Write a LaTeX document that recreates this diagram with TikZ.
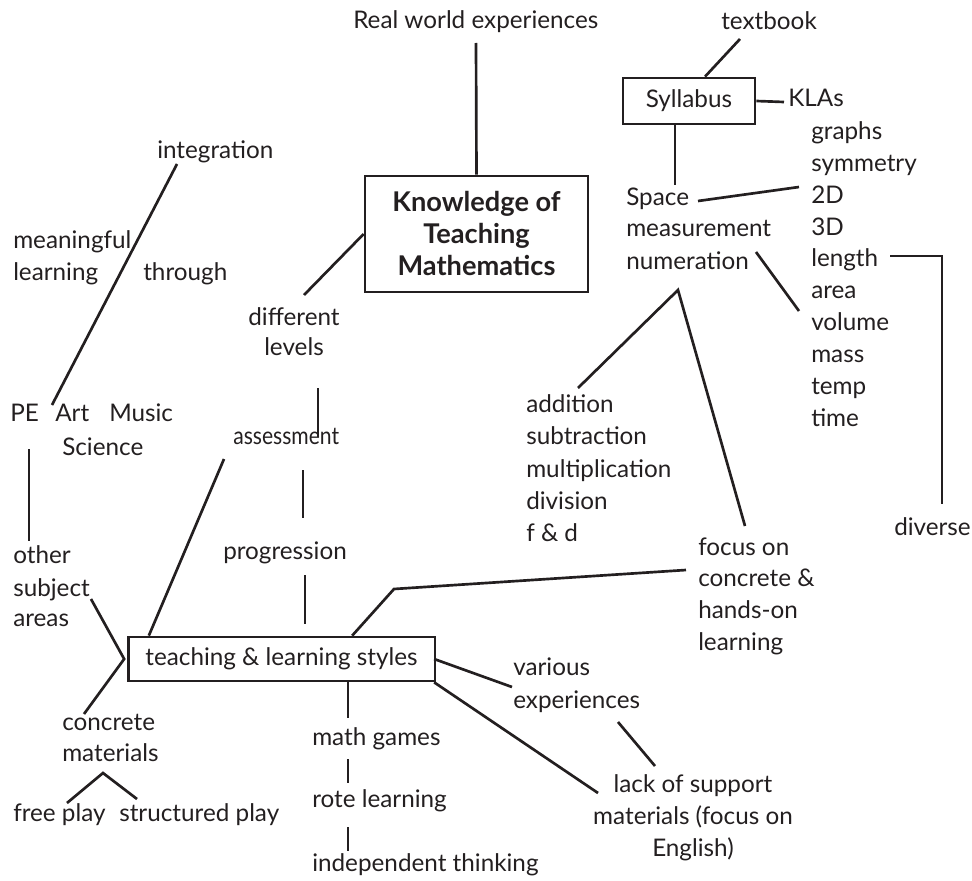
\documentclass[tikz,border=0pt]{standalone}
\usepackage{fontspec}
\usepackage{graphicx}
\setmainfont{Lato}
\usetikzlibrary{calc}
\definecolor{ink}{HTML}{231F20}
\tikzset{
  lbl/.style={inner sep=0pt, anchor=mid west, text=ink, font=\fontsize{18.2}{22}\selectfont},
  clbl/.style={lbl, anchor=mid},
  frame/.style={draw=ink, line width=2pt, inner sep=0pt, text=ink},
  link/.style={draw=ink, line width=2pt},
}
\begin{document}
\begin{tikzpicture}[x=0.75pt,y=-0.75pt]
\useasboundingbox (0,0) rectangle (972,881);

% boxed concepts
\node[frame, minimum width=167.25pt, minimum height=87pt, align=center,
      font=\fontsize{20.4}{24}\selectfont\bfseries] (ktm) at (476.5,234)
      {Knowledge of\\Teaching\\Mathematics};
\node[frame, minimum width=99pt, minimum height=34.5pt,
      font=\fontsize{18.2}{22}\selectfont] (syl) at (689,101) {Syllabus};
\node[frame, minimum width=230pt, minimum height=33pt,
      font=\fontsize{18.2}{22}\selectfont] (tls) at (281.5,659) {teaching \& learning styles};

% top
\node[lbl] (rw) at (353,25) {Real world experiences};
\node[lbl] (tb) at (721,26) {textbook};
\node[lbl] (kla) at (788,103) {KLAs};

% left branch
\node[lbl] (integ) at (157,155) {integration};
\node[lbl] (mean1) at (13,245) {meaningful};
\node[lbl] (mean2) at (13,277) {learning};
\node[lbl] (thr) at (143,277) {through};
\node[clbl] (diff1) at (294,322) {different};
\node[clbl] (diff2) at (294,352) {levels};
\node[lbl] (pe) at (10,418) {PE};
\node[lbl] (art) at (55,418) {Art};
\node[lbl] (mus) at (109,418) {Music};
\node[lbl] (sci) at (62,452) {Science};
\node[lbl] (ass) at (233,441) {\scalebox{0.87}[1]{assessment}};
\node[lbl] (oth1) at (13,560) {other};
\node[lbl] (oth2) at (13,593) {subject};
\node[lbl] (oth3) at (13,623) {areas};
\node[lbl] (prog) at (223,556) {progression};
\node[lbl] (conc1) at (62,727) {concrete};
\node[lbl] (conc2) at (62,758) {materials};
\node[lbl] (free) at (13,818) {free play};
\node[lbl] (struc) at (119,818) {structured play};
\node[lbl] (games) at (312,742) {math games};
\node[lbl] (rote) at (312,804) {rote learning};
\node[lbl] (indep) at (312,868) {independent thinking};

% syllabus strands
\node[lbl] (spc) at (626,202) {Space};
\node[lbl] (meas) at (626,233) {measurement};
\node[lbl] (num) at (626,266) {numeration};
\foreach \t [count=\i] in {graphs,symmetry,2D,3D,length,area,volume,mass,temp,time}
  \node[lbl] (top\i) at (811,{136+31.9*(\i-1)}) {\t};
\node[lbl] (div) at (894,532) {diverse};
\node[lbl] (op1) at (526,409) {addition};
\node[lbl] (op2) at (526,441) {subtraction};
\node[lbl] (op3) at (526,474) {multiplication};
\node[lbl] (op4) at (526,506) {division};
\node[lbl] (op5) at (526,538) {f \& d};
\node[lbl] (foc1) at (698,552) {focus on};
\node[lbl] (foc2) at (698,583) {concrete \&};
\node[lbl] (foc3) at (698,615) {hands-on};
\node[lbl] (foc4) at (698,647) {learning};
\node[lbl] (var1) at (513,672) {various};
\node[lbl] (var2) at (513,705) {experiences};
\node[clbl] (lack1) at (693,789) {lack of support};
\node[clbl] (lack2) at (693,821) {materials (focus on};
\node[clbl] (lack3) at (693,853) {English)};

% connector ends
\coordinate (rwE) at (476,43);
\coordinate (diffN) at (304,295);
\coordinate (integS) at (177,164);
\coordinate (peN) at (52,405);
\coordinate (levS) at (318,388);
\coordinate (assN) at (318,437);
\coordinate (peS) at (29,449);
\coordinate (othN) at (29,541);
\coordinate (othE) at (91,599);
\coordinate (concN) at (84,714);
\coordinate (assS) at (224,459);
\coordinate (assB) at (303,470);
\coordinate (progN) at (303,518);
\coordinate (progS) at (305,575);
\coordinate (tlsN) at (305,624);
\coordinate (bend) at (394,589);
\coordinate (focW) at (686,570);
\coordinate (varW) at (512,687);
\coordinate (lackW) at (598,793);
\coordinate (gamesN) at (348,718);
\coordinate (gamesS) at (348,759);
\coordinate (roteN) at (348,783);
\coordinate (roteS) at (348,827);
\coordinate (indepN) at (348,851);
\coordinate (matS) at (103,773);
\coordinate (freeN) at (67,803);
\coordinate (strucN) at (137,799);
\coordinate (tbS) at (740,39);
\coordinate (klaW) at (784,102);
\coordinate (spcN) at (675,185);
\coordinate (spcE) at (698,201);
\coordinate (twoW) at (799,187);
\coordinate (measE) at (756,252);
\coordinate (areaW) at (799,311);
\coordinate (numS) at (678,290);
\coordinate (addN) at (578,388);
\coordinate (focN) at (745,526);
\coordinate (lenE) at (890,256);
\coordinate (brk) at (942,256);
\coordinate (divN) at (942,504);
\coordinate (varS) at (618,722);
\coordinate (lackN) at (655,766);

% connectors
\draw[link] (rwE) -- (ktm.north);
\draw[link] (ktm.west) -- (diffN);
\draw[link] (integS) -- (peN);
\draw[link] (levS) -- (assN);
\draw[link] (peS) -- (othN);
\draw[link] (othE) -- ([xshift=-2pt]tls.west) -- (concN);
\draw[link] ([xshift=16.5pt]tls.north west) -- (assS);
\draw[link] (assB) -- (progN);
\draw[link] (progS) -- (tlsN);
\draw[link] ([xshift=-63pt]tls.north east) -- (bend) -- (focW);
\draw[link] ([xshift=-1.5pt]tls.east) -- (varW);
\draw[link] ([xshift=-1.5pt]tls.south east) -- (lackW);
\draw[link] (tls.south -| gamesN) -- (gamesN);
\draw[link] (gamesS) -- (roteN);
\draw[link] (roteS) -- (indepN);
\draw[link] (freeN) -- (matS) -- (strucN);
\draw[link] (tbS) -- (syl.north -| 705,0);
\draw[link] (syl.east) -- (klaW);
\draw[link] (syl.south -| spcN) -- (spcN);
\draw[link] (spcE) -- (twoW);
\draw[link] (measE) -- (areaW);
\draw[link] (addN) -- (numS) -- (focN);
\draw[link] (lenE) -- (brk) -- (divN);
\draw[link] (varS) -- (lackN);
\end{tikzpicture}
\end{document}
